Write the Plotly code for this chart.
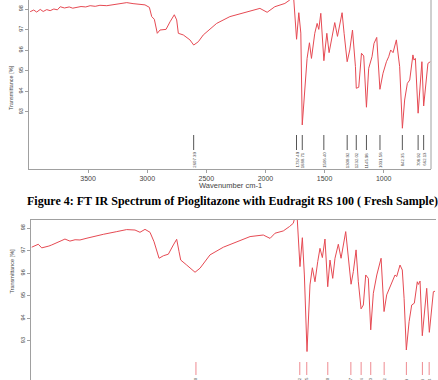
import plotly.graph_objects as go

# ---------------- data ----------------
wn1 = [3990, 3960, 3935, 3905, 3880, 3850, 3821, 3790, 3760, 3736, 3700, 3660, 3630, 3595, 3560, 3520,
       3483, 3440, 3400, 3342, 3300, 3240, 3173, 3120, 3061, 3019, 2982, 2962, 2940, 2915, 2892, 2841,
       2807, 2771, 2751, 2737, 2695, 2639, 2607, 2568, 2526, 2413, 2301, 2160, 2047, 1986, 1921, 1836,
       1794, 1766, 1737, 1718, 1701, 1689, 1661, 1648, 1628, 1611, 1583, 1563, 1549, 1532, 1506, 1481,
       1462, 1442, 1414, 1391, 1352, 1335, 1309, 1287, 1264, 1239, 1232, 1211, 1188, 1169, 1146, 1127,
       1099, 1082, 1059, 1032, 1006, 977, 958, 941, 921, 893, 865, 842, 823, 800, 780, 753, 744, 732,
       709, 677, 662, 626, 606]
tr1 = [97.87, 97.95, 97.85, 97.98, 97.88, 97.97, 97.92, 98.00, 97.96, 98.11, 98.05, 98.10, 98.04, 98.08, 98.12, 98.10,
       98.16, 98.13, 98.18, 98.16, 98.20, 98.24, 98.31, 98.26, 98.21, 98.20, 98.08, 97.63, 97.50, 96.82, 96.98, 97.01,
       97.38, 97.72, 97.47, 96.82, 96.74, 96.50, 96.25, 96.41, 96.74, 97.30, 97.63, 97.87, 98.03, 97.84, 98.11, 98.27,
       98.44, 98.90, 96.53, 97.82, 96.83, 92.37, 94.71, 95.60, 96.36, 95.60, 96.82, 97.30, 97.01, 97.79, 95.49, 96.82,
       95.88, 96.58, 97.34, 96.67, 97.82, 96.82, 95.44, 96.01, 96.98, 95.20, 94.15, 94.20, 95.85, 95.72, 93.23, 95.12,
       95.68, 96.33, 96.62, 94.10, 94.88, 95.44, 95.68, 96.01, 95.88, 96.50, 95.20, 92.21, 93.58, 94.39, 94.55, 95.77, 95.52, 95.60,
       92.94, 95.44, 93.29, 95.36, 95.44]
peaks1 = [2607.39, 1737.49, 1688.71, 1506.40, 1308.92, 1232.02, 1145.98, 1031.58, 842.35, 708.92, 662.13]

wn2 = [3994, 3965, 3939, 3910, 3882, 3850, 3826, 3800, 3771, 3740, 3715, 3673, 3630, 3589, 3530, 3477,
       3393, 3280, 3197, 3127, 3085, 3043, 3001, 2967, 2945, 2925, 2889, 2847, 2805, 2777, 2757, 2743,
       2693, 2623, 2581, 2497, 2385, 2273, 2161, 2050, 1993, 1951, 1882, 1831, 1798, 1769, 1742, 1722,
       1705, 1683, 1666, 1658, 1638, 1616, 1593, 1574, 1554, 1532, 1509, 1490, 1467, 1448, 1420, 1397,
       1358, 1336, 1313, 1294, 1271, 1252, 1229, 1210, 1190, 1168, 1148, 1126, 1097, 1061, 1036, 1014,
       977, 944, 930, 902, 883, 868, 849, 826, 804, 782, 757, 748, 734, 715, 678, 656, 622, 608]
tr2 = [97.15, 97.20, 97.28, 97.12, 97.15, 97.20, 97.25, 97.30, 97.37, 97.45, 97.51, 97.42, 97.48, 97.47, 97.55, 97.62,
       97.72, 97.84, 97.93, 97.91, 97.81, 97.94, 97.81, 97.39, 97.03, 96.66, 96.77, 96.84, 97.25, 97.50, 96.95, 96.58,
       96.36, 96.04, 96.22, 96.81, 97.15, 97.39, 97.62, 97.69, 97.54, 97.77, 97.87, 98.06, 98.21, 98.80, 96.29, 97.57,
       95.92, 92.53, 94.59, 95.48, 96.24, 95.62, 96.51, 97.10, 96.69, 97.51, 95.40, 96.58, 95.77, 96.66, 97.28, 96.66,
       97.84, 96.66, 95.51, 96.07, 97.03, 95.62, 94.42, 94.59, 95.92, 95.77, 93.49, 95.11, 95.92, 96.66, 94.30, 95.04,
       95.55, 95.92, 95.85, 96.36, 96.14, 94.89, 92.60, 93.85, 94.59, 94.67, 95.62, 95.50, 95.65, 93.23, 95.33, 93.38, 95.18, 95.20]
peaks2 = [2615.30, 1743.52, 1684.95, 1508.40, 1314.77, 1228.54, 1147.90, 1035.22, 848.63, 714.18, 657.44]

x_ticks = [3500, 3000, 2500, 2000, 1500, 1000]
y_ticks = [93, 94, 95, 96, 97, 98]
caption = "Figure 4: FT IR Spectrum of Pioglitazone with Eudragit RS 100 ( Fresh Sample)"

# ---------------- styles ----------------
W, H = 438, 380
RED = "#e64a53"
AXC = "#a0a0a0"
TXT = "#444444"
SANS = "Liberation Sans, Arial, sans-serif"

def px_x(p):
    return p / W

def px_y(p):
    return 1 - p / H

fig = go.Figure()
fig.add_trace(go.Scatter(x=wn1, y=tr1, mode="lines", line=dict(color=RED, width=1),
                         xaxis="x", yaxis="y", showlegend=False, hoverinfo="skip"))
fig.add_trace(go.Scatter(x=wn2, y=tr2, mode="lines", line=dict(color=RED, width=1),
                         xaxis="x2", yaxis="y2", showlegend=False, hoverinfo="skip"))

shapes = []
annotations = []

# peak markers, panel 1
for p in peaks1:
    shapes.append(dict(type="line", xref="x", yref="paper", x0=p, x1=p,
                       y0=px_y(135), y1=px_y(150), line=dict(color="#555555", width=1)))
    annotations.append(dict(x=p, xref="x", y=px_y(151), yref="paper", text=f"{p:.2f}",
                            textangle=-90, showarrow=False, xanchor="center", yanchor="top",
                            font=dict(family=SANS, size=4.3, color=TXT), borderpad=0))
# peak markers, panel 2
for p in peaks2:
    shapes.append(dict(type="line", xref="x2", yref="paper", x0=p, x1=p,
                       y0=px_y(362), y1=px_y(375), line=dict(color="#ee8a90", width=1)))
    annotations.append(dict(x=p, xref="x2", y=px_y(376.5), yref="paper", text=f"{p:.2f}",
                            textangle=-90, showarrow=False, xanchor="center", yanchor="top",
                            font=dict(family=SANS, size=4.3, color=TXT), borderpad=0))

# right border of panel 1
shapes.append(dict(type="line", xref="paper", yref="paper", x0=px_x(431), x1=px_x(431),
                   y0=px_y(169), y1=1, line=dict(color=AXC, width=1)))

# axis titles
annotations.append(dict(x=px_x(6), y=px_y(63.5), xref="paper", yref="paper", text="Transmittance [%]",
                        textangle=-90, showarrow=False, font=dict(family=SANS, size=5.5, color=TXT)))
annotations.append(dict(x=px_x(6), y=px_y(296), xref="paper", yref="paper", text="Transmittance [%]",
                        textangle=-90, showarrow=False, font=dict(family=SANS, size=5.5, color=TXT)))
annotations.append(dict(x=px_x(230), y=px_y(185), xref="paper", yref="paper", text="Wavenumber cm-1",
                        showarrow=False, font=dict(family=SANS, size=7.5, color=TXT)))
annotations.append(dict(x=px_x(232), y=px_y(201), xref="paper", yref="paper", text=f"<b>{caption}</b>",
                        showarrow=False, font=dict(family="Liberation Serif, Times New Roman, serif", size=12, color="#000000")))

yax_common = dict(tickvals=y_ticks, tickangle=-90, ticks="outside", ticklen=3, tickcolor=AXC,
                  showline=True, linecolor=AXC, linewidth=1, showgrid=False, zeroline=False,
                  tickfont=dict(family=SANS, size=5.5, color=TXT))

fig.update_layout(
    width=W, height=H, margin=dict(l=0, r=0, t=0, b=0),
    paper_bgcolor="white", plot_bgcolor="white",
    xaxis=dict(domain=[px_x(29), px_x(431)], range=[4000, 600], tickvals=x_ticks,
               ticks="outside", ticklen=3, tickcolor=AXC, showline=True, linecolor=AXC,
               showgrid=False, zeroline=False, anchor="y",
               tickfont=dict(family=SANS, size=7, color=TXT)),
    yaxis=dict(domain=[px_y(169), 1], range=[90.23, 98.437], anchor="x", **yax_common),
    xaxis2=dict(domain=[px_x(31), px_x(436)], range=[4000, 600], side="top", anchor="y2",
                showline=True, linecolor=AXC, showticklabels=False, ticks="",
                showgrid=False, zeroline=False),
    yaxis2=dict(domain=[0, px_y(220)], range=[91.27, 98.354], anchor="x2", **yax_common),
    shapes=shapes, annotations=annotations,
)

fig.write_html("out.html")
